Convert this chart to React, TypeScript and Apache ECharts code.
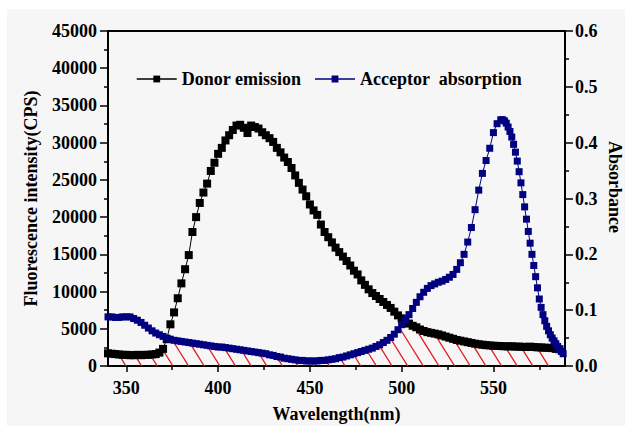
import React, { useEffect, useRef } from "react";
import * as echarts from "echarts";

// Donor emission (fluorescence, CPS), 2 nm steps
const DONOR_WL = [
  340, 342, 344, 346, 348, 350, 352, 354, 356, 358, 360, 362, 364, 366, 368, 370, 372, 374, 376, 378,
  380, 382, 384, 386, 388, 390, 392, 394, 396, 398, 400, 402, 404, 406, 408, 410, 412, 414, 416, 418,
  420, 422, 424, 426, 428, 430, 432, 434, 436, 438, 440, 442, 444, 446, 448, 450, 452, 454, 456, 458,
  460, 462, 464, 466, 468, 470, 472, 474, 476, 478, 480, 482, 484, 486, 488, 490, 492, 494, 496, 498,
  500, 502, 504, 506, 508, 510, 512, 514, 516, 518, 520, 522, 524, 526, 528, 530, 532, 534, 536, 538,
  540, 542, 544, 546, 548, 550, 552, 554, 556, 558, 560, 562, 564, 566, 568, 570, 572, 574, 576, 578,
  580, 582, 584, 586,
];
const DONOR_CPS = [
  1700, 1650, 1600, 1550, 1500, 1500, 1450, 1450, 1500, 1450, 1500, 1500, 1550, 1600, 1800, 2300, 3600, 5600, 7200, 9100,
  11100, 13000, 14900, 18000, 20000, 21900, 23300, 24500, 26200, 27300, 28500, 29300, 30300, 31000, 31700, 32300, 32400, 32000, 31300, 32300,
  32100, 31900, 31400, 31000, 30600, 30100, 29300, 28700, 28000, 27400, 26600, 25600, 24600, 23700, 22800, 21700, 20900, 20300, 19000, 18000,
  17300, 16600, 15900, 15300, 14700, 14100, 13500, 12800, 12300, 11500, 10900, 10300, 9800, 9400, 9000, 8600, 8200, 7800, 7300, 6800,
  6400, 6000, 5700, 5400, 5200, 4900, 4700, 4550, 4450, 4350, 4250, 4100, 3950, 3800, 3650, 3500, 3400, 3300, 3200, 3100,
  3000, 2920, 2860, 2800, 2760, 2720, 2700, 2680, 2650, 2630, 2650, 2600, 2600, 2580, 2550, 2600, 2550, 2500, 2500, 2450,
  2450, 2400, 2300, 2250,
];

// Acceptor absorption (absorbance)
const ACC_WL = [
  340, 342, 344, 346, 348, 350, 352, 354, 356, 358, 360, 362, 364, 366, 368, 370, 372, 374, 376, 378,
  380, 382, 384, 386, 388, 390, 392, 394, 396, 398, 400, 402, 404, 406, 408, 410, 412, 414, 416, 418,
  420, 422, 424, 426, 428, 430, 432, 434, 436, 438, 440, 442, 444, 446, 448, 450, 452, 454, 456, 458,
  460, 462, 464, 466, 468, 470, 472, 474, 476, 478, 480, 482, 484, 486, 488, 490, 492, 494, 496, 498,
  500, 502, 504, 506, 508, 510, 512, 514, 516, 518, 520, 522, 524, 526, 528, 530, 532, 534, 536, 538,
  540, 542, 544, 546, 548, 550, 552, 554,
  555, 556, 557, 558, 559, 560, 561, 562, 563, 564, 565, 566, 567, 568, 569, 570, 571, 572, 573, 574,
  575, 576, 577, 578, 579, 580, 581, 582, 583, 584, 585, 586, 587, 588,
];
const ACC_ABS = [
  0.088, 0.088, 0.087, 0.087, 0.088, 0.088, 0.088, 0.085, 0.082, 0.078, 0.073, 0.068, 0.063, 0.059, 0.056, 0.053, 0.05, 0.048, 0.046, 0.045,
  0.044, 0.043, 0.042, 0.041, 0.04, 0.039, 0.038, 0.037, 0.036, 0.035, 0.034, 0.034, 0.033, 0.032, 0.031, 0.03, 0.029, 0.028, 0.027, 0.026,
  0.025, 0.024, 0.023, 0.022, 0.02, 0.019, 0.017, 0.016, 0.014, 0.013, 0.012, 0.011, 0.01, 0.01, 0.009, 0.009, 0.009, 0.009, 0.01, 0.01,
  0.011, 0.012, 0.013, 0.015, 0.016, 0.018, 0.02, 0.022, 0.024, 0.026, 0.028, 0.03, 0.032, 0.035, 0.038, 0.042, 0.046, 0.051, 0.057, 0.065,
  0.074, 0.083, 0.092, 0.103, 0.114, 0.124, 0.132, 0.139, 0.144, 0.147, 0.15, 0.152, 0.155, 0.159, 0.164, 0.173, 0.185, 0.2, 0.222, 0.248,
  0.28, 0.315, 0.345, 0.368, 0.39, 0.418, 0.434, 0.441,
  0.441, 0.439, 0.435, 0.428, 0.42, 0.41, 0.397, 0.383, 0.367, 0.348, 0.328, 0.307, 0.285, 0.263, 0.241, 0.22, 0.2, 0.18, 0.16, 0.14,
  0.12, 0.105, 0.092, 0.081, 0.071, 0.063, 0.056, 0.05, 0.045, 0.04, 0.035, 0.03, 0.026, 0.022,
];

const X_MIN = 340;
const X_MAX = 589;
const X_TICKS = [350, 400, 450, 500, 550];
const X_MINOR_TICKS = [375, 425, 475, 525, 575];
const LEFT_MAX = 45000;
const LEFT_STEP = 5000;
const RIGHT_MAX = 0.6;
const RIGHT_STEP = 0.1;

const DONOR_NAME = "Donor emission";
const ACC_NAME = "Acceptor  absorption";

const FONT = "'Liberation Serif', 'Times New Roman', serif";

export default function App() {
  const ref = useRef<HTMLDivElement>(null);

  useEffect(() => {
    if (!ref.current) return;
    const chart = echarts.init(ref.current, undefined, { renderer: "svg" });

    const labelStyle = {
      fontFamily: FONT,
      fontWeight: "bold" as const,
      fontSize: 18,
      color: "#000",
    };
    const axisLineStyle = { color: "#000", width: 2 };
    const tickStyle = { color: "#000", width: 1.5 };

    const HATCH_GAP = 15.65;
    const HATCH_START = 18;
    const HATCH_SLOPE = 1.6;

    const renderHatch = (params: any, api: any) => {
      const cs = params.coordSys;
      const left = cs.x;
      const right = cs.x + cs.width;
      const y0 = cs.y + cs.height;
      const dPts = DONOR_WL.map((w, i) => api.coord([w, DONOR_CPS[i]]));
      const aPts = ACC_WL.map((w, i) => api.coord([w, (ACC_ABS[i] * LEFT_MAX) / RIGHT_MAX]));
      const interp = (pts: number[][], x: number) => {
        if (x < pts[0][0] || x > pts[pts.length - 1][0]) return y0;
        for (let k = 1; k < pts.length; k++) {
          if (x <= pts[k][0]) {
            const p = pts[k - 1];
            const q = pts[k];
            const t = (x - p[0]) / (q[0] - p[0] || 1);
            return p[1] + t * (q[1] - p[1]);
          }
        }
        return y0;
      };
      const curveY = (x: number) => Math.max(interp(dPts, x), interp(aPts, x));
      const children: any[] = [];
      for (let xb = left + HATCH_START; xb < right + 40; xb += HATCH_GAP) {
        let sx = xb;
        let sy = y0;
        if (sx > right) {
          sy = y0 - (sx - right) * HATCH_SLOPE;
          sx = right;
        }
        if (!(sy > curveY(sx))) continue;
        let ex = sx;
        let ey = sy;
        const step = 0.25;
        while (ex - step > left) {
          const nx = ex - step;
          const ny = ey - step * HATCH_SLOPE;
          if (ny <= curveY(nx)) break;
          ex = nx;
          ey = ny;
        }
        children.push({
          type: "line",
          shape: { x1: sx, y1: sy, x2: ex, y2: ey },
          style: { stroke: "#e3191c", lineWidth: 1.3 },
        });
      }
      return { type: "group", children };
    };

    chart.setOption({
      animation: false,
      backgroundColor: "#ffffff",
      graphic: [
        {
          type: "rect",
          z: -10,
          silent: true,
          shape: { x: 7, y: 9, width: 618, height: 417 },
          style: { fill: "#f6f6f6" },
        },
        {
          type: "text",
          x: 615,
          y: 187,
          rotation: -Math.PI / 2,
          silent: true,
          style: {
            text: "Absorbance",
            fontFamily: FONT,
            fontWeight: "bold",
            fontSize: 18,
            fill: "#000",
            align: "center",
            verticalAlign: "middle",
          },
        },
      ],
      grid: {
        left: 108,
        right: 60,
        top: 31,
        bottom: 60,
        show: true,
        borderColor: "#000",
        borderWidth: 2,
        backgroundColor: "transparent",
        containLabel: false,
        outerBoundsMode: "none",
      },
      legend: {
        left: 131,
        top: 65,
        itemWidth: 40,
        itemHeight: 8.5,
        itemGap: 13,
        data: [DONOR_NAME, ACC_NAME],
        textStyle: { ...labelStyle },
        lineStyle: { width: 1.5 },
      },
      xAxis: [
        {
          type: "value",
          min: X_MIN,
          max: X_MAX,
          position: "bottom",
          name: "Wavelength(nm)",
          nameLocation: "middle",
          nameGap: 39,
          nameTextStyle: { ...labelStyle },
          axisLine: { show: true, lineStyle: axisLineStyle },
          axisTick: { show: true, inside: false, length: 6, customValues: X_TICKS, lineStyle: tickStyle },
          axisLabel: { show: true, margin: 13, customValues: X_TICKS, ...labelStyle, formatter: (v: number) => String(v) },
          splitLine: { show: false },
        },
        {
          type: "value",
          min: X_MIN,
          max: X_MAX,
          position: "bottom",
          axisLine: { show: false },
          axisTick: { show: true, inside: false, length: 4, customValues: X_MINOR_TICKS, lineStyle: tickStyle },
          axisLabel: { show: false },
          splitLine: { show: false },
        },
      ],
      yAxis: [
        {
          type: "value",
          min: 0,
          max: LEFT_MAX,
          interval: LEFT_STEP,
          position: "left",
          name: "Fluorescence intensity(CPS)",
          nameLocation: "middle",
          nameGap: 68,
          nameTextStyle: { ...labelStyle },
          axisLine: { show: true, lineStyle: axisLineStyle },
          axisTick: { show: true, inside: false, length: 8, lineStyle: tickStyle },
          minorTick: { show: true, splitNumber: 2, length: 4, lineStyle: tickStyle },
          axisLabel: { margin: 11, ...labelStyle, formatter: (v: number) => String(v) },
          splitLine: { show: false },
        },
        {
          type: "value",
          min: 0,
          max: RIGHT_MAX,
          interval: RIGHT_STEP,
          position: "right",
          axisLine: { show: true, lineStyle: axisLineStyle },
          axisTick: { show: true, inside: false, length: 8, lineStyle: tickStyle },
          minorTick: { show: true, splitNumber: 2, length: 4, lineStyle: tickStyle },
          axisLabel: { margin: 10, ...labelStyle, formatter: (v: number) => v.toFixed(1) },
          splitLine: { show: false },
        },
      ],
      series: [
        {
          type: "custom",
          name: "overlap",
          xAxisIndex: 0,
          yAxisIndex: 0,
          z: 1,
          silent: true,
          clip: true,
          data: [[X_MIN, 0]],
          renderItem: renderHatch,
        },
        {
          type: "line",
          name: DONOR_NAME,
          xAxisIndex: 0,
          yAxisIndex: 0,
          z: 3,
          data: DONOR_WL.map((w, i) => [w, DONOR_CPS[i]]),
          symbol: "rect",
          symbolSize: 8,
          showSymbol: true,
          showAllSymbol: true,
          itemStyle: { color: "#000" },
          lineStyle: { color: "#000", width: 1 },
        },
        {
          type: "line",
          name: ACC_NAME,
          xAxisIndex: 0,
          yAxisIndex: 1,
          z: 4,
          data: ACC_WL.map((w, i) => [w, ACC_ABS[i]]),
          symbol: "rect",
          symbolSize: 7,
          showSymbol: true,
          showAllSymbol: true,
          itemStyle: { color: "#000080" },
          lineStyle: { color: "#000080", width: 1 },
        },
      ],
    });

    return () => chart.dispose();
  }, []);

  return (
    <div
      ref={ref}
      style={{ position: "absolute", left: 0, top: 0, width: 625, height: 426 }}
    />
  );
}
